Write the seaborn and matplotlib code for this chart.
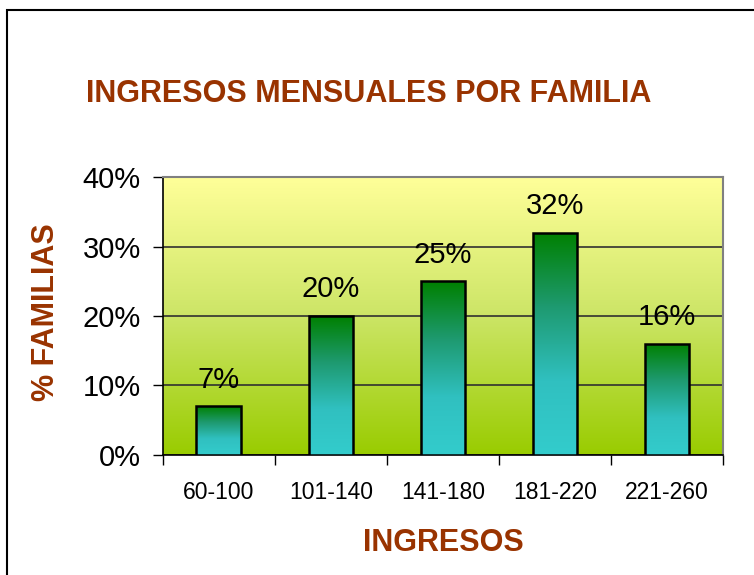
import numpy as np
import pandas as pd
import seaborn as sns
import matplotlib.pyplot as plt
from matplotlib.colors import LinearSegmentedColormap
from matplotlib.patches import Rectangle
from matplotlib.ticker import FuncFormatter

# Datos
rangos = ['60-100', '101-140', '141-180', '181-220', '221-260']
porcentajes = [7, 20, 25, 32, 16]

df = pd.DataFrame({'ingresos': rangos, 'familias': porcentajes})

sns.set_style('white')
plt.rcParams['font.family'] = ['Liberation Sans', 'DejaVu Sans']
plt.rcParams['text.color'] = 'black'
plt.rcParams['xtick.color'] = 'black'
plt.rcParams['ytick.color'] = 'black'

marron = '#993300'

fig = plt.figure(figsize=(7.54, 5.75), dpi=100)
ax = fig.add_axes([0.216, 0.209, 0.743, 0.483])

sns.barplot(data=df, x='ingresos', y='familias', width=0.4, color='#33CCCC',
            edgecolor='black', linewidth=1.8, ax=ax, zorder=3)

# fondo degradado amarillo -> verde
fondo = LinearSegmentedColormap.from_list('fondo', ['#99CC00', '#CCE566', '#FFFF99'])
ax.imshow(np.linspace(0, 1, 256).reshape(-1, 1), cmap=fondo, origin='lower',
          extent=[-0.5, 4.5, 0, 40], aspect='auto', zorder=0)

# barras con degradado verde -> turquesa
barra = LinearSegmentedColormap.from_list('barra', ['#33CCCC', '#30C0C0', '#1E9A70', '#008000'])
for p in ax.patches:
    x, w, h = p.get_x(), p.get_width(), p.get_height()
    im = ax.imshow(np.linspace(0, 1, 256).reshape(-1, 1), cmap=barra, origin='lower',
                   extent=[x, x + w, 0, h], aspect='auto', zorder=3)
    im.set_clip_path(p)
    p.set_facecolor('none')
    p.set_zorder(4)

ax.set_xlim(-0.5, 4.5)
ax.set_ylim(0, 40)

ax.yaxis.grid(True, color='#303030', lw=1.2)
ax.set_axisbelow(True)
for g in ax.get_ygridlines():
    g.set_zorder(1)

for s in ['left', 'bottom']:
    ax.spines[s].set_color('black')
    ax.spines[s].set_linewidth(1.2)
for s in ['top', 'right']:
    ax.spines[s].set_color('#808080')
    ax.spines[s].set_linewidth(1.5)

ax.set_yticks([0, 10, 20, 30, 40])
ax.yaxis.set_major_formatter(FuncFormatter(lambda v, _: f'{int(v)}%'))
ax.tick_params(axis='y', direction='out', length=7, width=1, left=True,
               labelsize=21, pad=9)

ax.set_xticks(np.arange(-0.5, 5, 1))
ax.set_xticklabels([])
ax.set_xticks(range(len(rangos)), minor=True)
ax.set_xticklabels(rangos, minor=True, fontsize=16.5)
ax.tick_params(axis='x', which='major', direction='out', length=7, width=1, bottom=True)
ax.tick_params(axis='x', which='minor', length=0, pad=19)

ax.set_xlabel('')
ax.set_ylabel('')

for i, v in enumerate(porcentajes):
    ax.text(i, v + 1.8, f'{v}%', ha='center', va='bottom', fontsize=21, zorder=5)

fig.text(369 / 754, 1 - 94 / 575, 'INGRESOS MENSUALES POR FAMILIA', ha='center', va='center',
         fontsize=22, fontweight='bold', color=marron)
fig.text(46 / 754, 1 - 312 / 575, '% FAMILIAS', rotation=90, ha='center', va='center',
         fontsize=22, fontweight='bold', color=marron)
fig.text(443 / 754, 1 - 543 / 575, 'INGRESOS', ha='center', va='center',
         fontsize=22, fontweight='bold', color=marron)

# marco del grafico
fig.patches.append(Rectangle((7 / 754, -0.1), 1.2, 1.1 - 10 / 575, fill=False,
                             lw=1.5, edgecolor='black', transform=fig.transFigure))

fig.savefig('out.png', dpi=100)
